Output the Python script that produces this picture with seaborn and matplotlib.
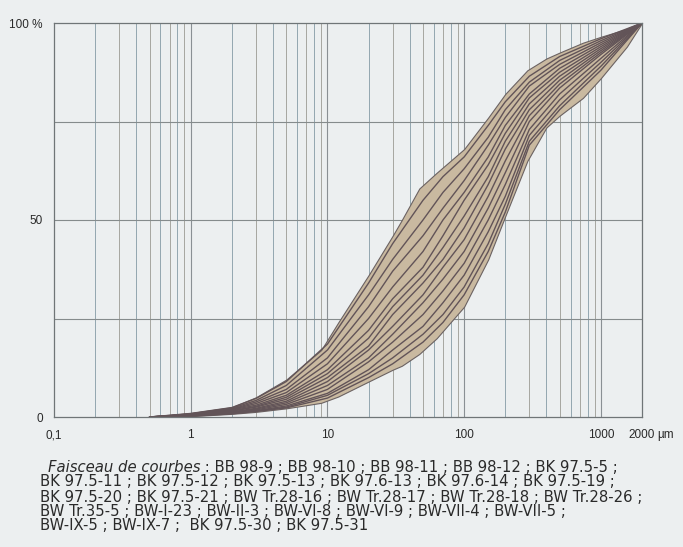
import numpy as np
import pandas as pd
import matplotlib
matplotlib.use("Agg")
import matplotlib.pyplot as plt
import seaborn as sns

# ---- data -----------------------------------------------------------------
env_x = [0.5, 1, 2, 3, 5, 9, 12, 20, 30, 35, 47, 63, 100, 150, 200, 290, 400, 500, 740, 1000, 1550, 2000]
env_upper = [0, 1, 2.5, 5, 9.5, 17, 24, 36, 46, 50, 58, 62, 68, 76, 82, 88, 91, 92.5, 95, 96.5, 98.5, 100]
env_lower = [0, 0.2, 0.8, 1.3, 2.2, 3.6, 5.2, 9, 12, 13, 16, 20, 28, 40, 51, 65, 73.5, 76.5, 81, 86, 94, 100]

curve_x = [0.5, 1, 2, 3, 5, 10, 20, 30, 50, 70, 100, 150, 200, 300, 500, 1000, 2000]
c01 = [0, 0.9, 2.4, 4.7, 9.0, 18.5, 34, 44, 55, 61, 66, 74, 80, 86.5, 91.5, 96, 100]
c02 = [0, 0.8, 2.2, 4.2, 8.0, 17.0, 31, 40, 50, 57, 63, 71, 78, 85, 90.5, 95.5, 100]
c03 = [0, 0.7, 2.0, 3.8, 7.0, 15.0, 28, 37, 46, 53, 60, 69, 76, 84, 89.5, 95, 100]
c04 = [0, 0.6, 1.9, 3.4, 6.2, 13.5, 25, 33, 42, 50, 57, 66, 74, 82, 88.5, 94.5, 100]
c05 = [0, 0.6, 1.8, 3.0, 5.5, 12.0, 22, 30, 38, 46, 55, 64, 72, 81, 87.5, 94, 100]
c06 = [0, 0.5, 1.6, 2.7, 5.0, 11.0, 20, 28, 36, 43, 51, 61, 70, 79.5, 86.5, 93.5, 100]
c07 = [0, 0.5, 1.5, 2.5, 4.5, 10.0, 18, 26, 34, 40, 48, 59, 68, 78, 85.5, 93, 100]
c08 = [0, 0.4, 1.3, 2.2, 4.0, 9.0, 17, 23, 31, 38, 45, 56, 65, 76.5, 84.5, 92.5, 100]
c09 = [0, 0.4, 1.2, 2.0, 3.6, 8.0, 15, 21, 29, 35, 42, 53, 62, 75, 83.5, 92, 100]
c10 = [0, 0.3, 1.1, 1.8, 3.2, 7.0, 14, 19, 26, 32, 39, 50, 59, 73, 82, 91, 100]
c11 = [0, 0.3, 1.0, 1.6, 2.8, 6.0, 12, 17, 23, 29, 36, 47, 56, 71.5, 80.5, 90, 100]
c12 = [0, 0.3, 0.9, 1.5, 2.5, 5.5, 11, 15, 21, 26, 33, 44, 54, 70, 79, 89, 100]
c13 = [0, 0.2, 0.8, 1.4, 2.3, 4.8, 10, 13.5, 19, 24, 31, 42, 52, 69, 78, 88, 100]
curves = [c01, c02, c03, c04, c05, c06, c07, c08, c09, c10, c11, c12, c13]

x_ticks = [0.1, 1, 10, 100, 1000, 2000]
x_ticklabels = ["0,1", "1", "10", "100", "1000", "2000"]
y_ticks = [0, 50, 100]
y_ticklabels = ["0", "50", "100 %"]

caption_italic = "Faisceau de courbes"
caption_lines = [
    " : BB 98-9 ; BB 98-10 ; BB 98-11 ; BB 98-12 ; BK 97.5-5 ;",
    "BK 97.5-11 ; BK 97.5-12 ; BK 97.5-13 ; BK 97.6-13 ; BK 97.6-14 ; BK 97.5-19 ;",
    "BK 97.5-20 ; BK 97.5-21 ; BW Tr.28-16 ; BW Tr.28-17 ; BW Tr.28-18 ; BW Tr.28-26 ;",
    "BW Tr.35-5 ; BW-I-23 ; BW-II-3 ; BW-VI-8 ; BW-VI-9 ; BW-VII-4 ; BW-VII-5 ;",
    "BW-IX-5 ; BW-IX-7 ;  BK 97.5-30 ; BK 97.5-31",
]

# ---- style ----------------------------------------------------------------
sns.set_theme(style="white")
plt.rcParams["font.family"] = ["Liberation Sans", "DejaVu Sans"]
BG = "#eceff0"

fig = plt.figure(figsize=(6.83, 5.47), dpi=100, facecolor=BG)
ax = fig.add_axes([54 / 683, 1 - 417 / 547, (642 - 54) / 683, (417 - 23) / 547])
ax.set_facecolor(BG)
ax.set_xscale("log")
ax.set_xlim(0.1, 2000)
ax.set_ylim(0, 100)

# grid
minor_cols = ["#93a6b0", "#a6a6a0"]
k = 0
for dec in [0.1, 1, 10, 100]:
    for m in range(2, 10):
        v = dec * m
        ax.axvline(v, color=minor_cols[k % 2], lw=0.7, zorder=0)
        k += 1
for v in [1, 10, 100, 1000]:
    ax.axvline(v, color="#8a9094", lw=0.8, zorder=0)
for v in [25, 50, 75]:
    ax.axhline(v, color="#858b8c", lw=0.8, zorder=0)

# envelope
ax.fill_between(env_x, env_lower, env_upper, color="#c9b9a0", zorder=1,
                edgecolor="#6b6262", linewidth=0.8)

# curves
rows = []
for i, c in enumerate(curves):
    for xv, yv in zip(curve_x, c):
        rows.append({"sample": i, "size": xv, "pct": yv})
df = pd.DataFrame(rows)
sns.lineplot(data=df, x="size", y="pct", units="sample", estimator=None,
             color="#625458", lw=1.0, ax=ax, zorder=2, legend=False)

ax.set_xlabel("")
ax.set_ylabel("")
for s in ["left", "bottom", "top", "right"]:
    ax.spines[s].set_visible(True)
    ax.spines[s].set_color("#6f7577")
    ax.spines[s].set_linewidth(0.9)

ax.set_xticks(x_ticks)
ax.set_xticklabels(x_ticklabels)
ax.xaxis.set_minor_locator(matplotlib.ticker.NullLocator())
ax.set_yticks(y_ticks)
ax.set_yticklabels(y_ticklabels)
ax.tick_params(axis="both", which="major", direction="out", length=5,
               width=0.8, color="#6f7577", labelsize=8.5, labelcolor="#2a2a2a")
ax.tick_params(axis="x", pad=4)
ax.tick_params(axis="y", pad=3)

ax.annotate("µm", xy=(2000, 0), xycoords="data", xytext=(11, -13),
            textcoords="offset points", ha="left", va="center",
            fontsize=8.5, color="#2a2a2a", annotation_clip=False)

# caption
fs = 10.7
cap_font = ["DejaVu Sans"]
t1 = fig.text(48 / 683, 1 - 467 / 547, caption_italic, fontsize=fs, style="italic",
              family=cap_font, color="#2a2a2a", va="center", ha="left")
ax.annotate(caption_lines[0], xy=(1, 0.5), xycoords=t1, va="center", ha="left",
            fontsize=fs, family=cap_font, color="#2a2a2a")
ys = [482, 497, 511, 525]
for line, yy in zip(caption_lines[1:], ys):
    fig.text(40 / 683, 1 - yy / 547, line, fontsize=fs, family=cap_font,
             color="#2a2a2a", va="center", ha="left")

fig.savefig("out.png", dpi=100, facecolor=BG)
